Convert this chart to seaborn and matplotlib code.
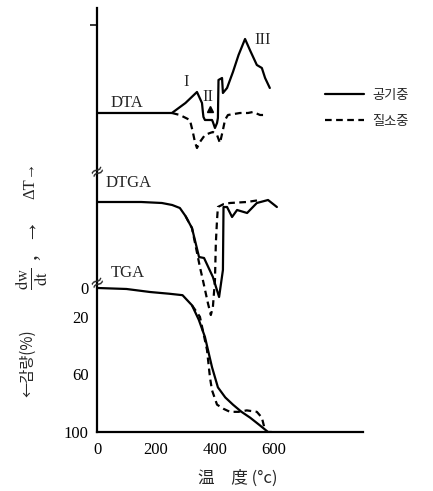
import matplotlib
matplotlib.use('Agg')
from matplotlib import pyplot as plt
import seaborn as sns

# TGA : 감량 (%)
tga_air_t = [0, 100, 180, 245, 290, 322, 345, 366, 390, 410, 435, 461, 490, 519, 550, 580, 592]
tga_air_w = [0, 0.7, 2.8, 4, 5, 12, 22, 34, 55, 69, 76, 81, 86, 90, 95, 100, 100]
tga_n2_t = [322, 349, 373, 383, 390, 407, 430, 451, 480, 508, 542, 559, 570]
tga_n2_w = [12, 20, 43, 62, 71, 81, 84, 86, 86, 85, 86, 90, 99]

# DTGA : dw/dt (arbitrary units, + = downward)
dtga_air_t = [0, 150, 220, 255, 281, 300, 322, 346, 363, 393, 414, 427, 429, 441, 458, 475, 509, 542, 580, 610]
dtga_air = [0, 0, 1, 3, 6, 14, 26, 55, 56, 75, 95, 68, 5, 5, 15, 8, 11, 1, -2, 5]
dtga_n2_t = [300, 322, 349, 359, 376, 386, 393, 400, 403, 407, 410, 430, 451, 508, 553]
dtga_n2 = [14, 26, 65, 78, 101, 113, 105, 78, 41, 18, 5, 2, 1, 0, -2]

# DTA : delta T (arbitrary units, + = exo, upward)
dta_air_t = [0, 254, 300, 339, 356, 359, 361, 366, 390, 393, 400, 407, 410, 412, 424, 427, 441, 461, 480, 502, 520, 542, 559, 570, 586]
dta_air = [0, 0, 10, 21, 10, 1, -4, -7, -7, -9, -15, -10, -5, 33, 35, 20, 25, 41, 58, 74, 62, 48, 45, 35, 25]
dta_n2_t = [254, 281, 315, 325, 332, 339, 349, 366, 383, 393, 407, 417, 427, 434, 444, 485, 512, 529, 553, 576]
dta_n2 = [0, -2, -7, -19, -29, -35, -29, -22, -20, -19, -22, -30, -17, -7, -2, 0, 0, 1, -2, -2]

xticks = [0, 200, 400, 600]
yticks = [0, 20, 40, 60, 80, 100]
yticklabels = ['0', '20', '', '60', '', '100']

dta_base = -121.5
dtga_base = -59.7
k = 1.44

sns.set_style('white')
plt.rcParams['font.family'] = ['Liberation Serif', 'Noto Sans CJK KR', 'DejaVu Sans']
plt.rcParams['mathtext.fontset'] = 'stix'

fig = plt.figure(figsize=(4.33, 4.91), dpi=100)
ax = fig.add_axes([97 / 433, 1 - 432 / 491, 266 / 433, 424 / 491])

lw = 1.6
dash = (3, 2)
sns.lineplot(x=tga_air_t, y=tga_air_w, ax=ax, color='black', lw=lw, estimator=None, sort=False)
sns.lineplot(x=tga_n2_t, y=tga_n2_w, ax=ax, color='black', lw=lw, estimator=None, sort=False, dashes=False, linestyle=(0, dash))
sns.lineplot(x=dtga_air_t, y=[dtga_base + v / k for v in dtga_air], ax=ax, color='black', lw=lw, estimator=None, sort=False)
sns.lineplot(x=dtga_n2_t, y=[dtga_base + v / k for v in dtga_n2], ax=ax, color='black', lw=lw, estimator=None, sort=False, dashes=False, linestyle=(0, dash))
l_air = ax.plot(dta_air_t, [dta_base - v / k for v in dta_air], color='black', lw=lw)[0]
l_n2 = ax.plot(dta_n2_t, [dta_base - v / k for v in dta_n2], color='black', lw=lw, linestyle=(0, dash))[0]

# small marker near peak II
ax.plot([383], [-124], marker='^', color='black', ms=5)

ax.set_xlim(0, 902)
ax.set_ylim(100, -194.4)
ax.set_xticks(xticks)
ax.set_xticklabels([str(t) for t in xticks])
ax.set_yticks(yticks)
ax.set_yticklabels(yticklabels)
ax.set_yticks([-182.6], minor=True)
ax.tick_params(which='major', direction='in', length=4, width=1.3, labelsize=12, pad=6, colors='black')
ax.tick_params(axis='y', which='minor', direction='out', length=5, width=1.3, left=True)
ax.tick_params(axis='x', pad=7)
for s in ['top', 'right']:
    ax.spines[s].set_visible(False)
for s in ['left', 'bottom']:
    ax.spines[s].set_color('black')
    ax.spines[s].set_linewidth(1.6)

# curve labels
ax.text(102, -128.5, 'DTA', fontsize=12, ha='center', va='center')
ax.text(108, -73, 'DTGA', fontsize=12, ha='center', va='center')
ax.text(105, -10.4, 'TGA', fontsize=12, ha='center', va='center')
ax.text(302, -143, 'I', fontsize=12, ha='center', va='center')
ax.text(376, -132.6, 'II', fontsize=12, ha='center', va='center')
ax.text(563, -172, 'III', fontsize=12, ha='center', va='center')

# axis break marks
for yb in [-80.5, -3.5]:
    ax.text(0, yb, '≈', fontsize=13, ha='center', va='center', rotation=30, family='DejaVu Sans')

# left labels
fig.text(28 / 433, 1 - 363 / 491, '←감량(%)', rotation=90, ha='center', va='center', fontsize=11,
         family=['Noto Sans CJK KR', 'DejaVu Sans'])
fig.text(32 / 433, 1 - 256 / 491, r'$\mathrm{\frac{dw}{dt}}$ ,  →', rotation=90, ha='center', va='center', fontsize=17)
fig.text(30 / 433, 1 - 180 / 491, 'ΔT→', rotation=90, ha='center', va='center', fontsize=12)

# x label
fig.text(238 / 433, 1 - 478 / 491, '温\u3000度 (°c)', ha='center', va='center', fontsize=12,
         family=['Noto Sans CJK KR', 'DejaVu Sans'])

# legend
ax.legend([l_air, l_n2], ['공기중', '질소중'], loc='upper left', bbox_to_anchor=(318 / 433, 1 - 82 / 491),
          bbox_transform=fig.transFigure, frameon=False, handlelength=3.0, handletextpad=0.6, borderpad=0,
          labelspacing=1.0, prop={'family': ['Noto Sans CJK KR', 'DejaVu Sans'], 'size': 9.5})

fig.savefig('out.png', dpi=100)
